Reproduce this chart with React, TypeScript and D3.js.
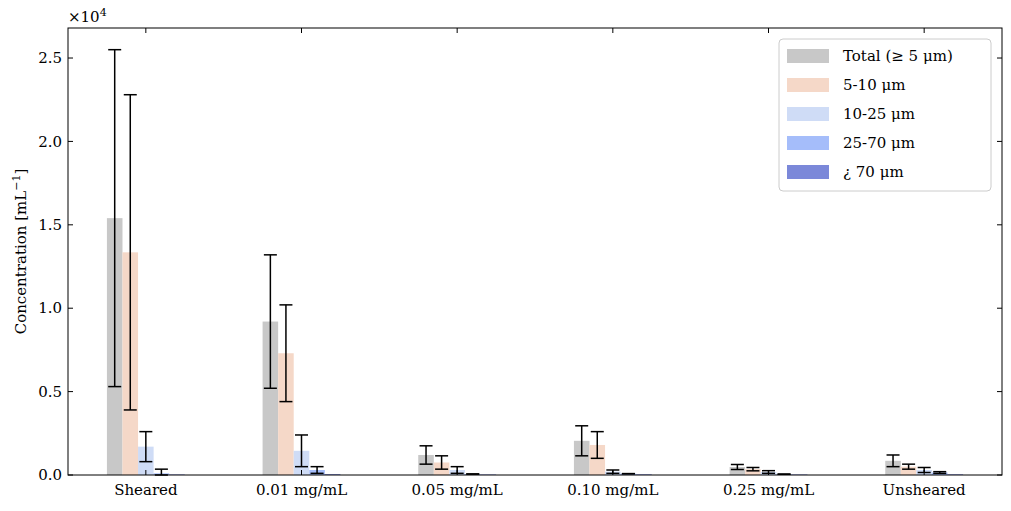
import { useRef, useEffect } from 'react'
import * as d3 from 'd3'

const categories = ['Sheared', '0.01 mg/mL', '0.05 mg/mL', '0.10 mg/mL', '0.25 mg/mL', 'Unsheared']
const seriesNames = ['Total (≥ 5 μm)', '5-10 μm', '10-25 μm', '25-70 μm', '¿ 70 μm']
const seriesColors = ['#c8c8c8', '#f5d8c8', '#cfdcf6', '#a5bdfa', '#7b88d9']
const means = [
  [15400, 9200, 1200, 2050, 480, 850],
  [13350, 7300, 750, 1800, 350, 500],
  [1700, 1450, 300, 200, 180, 300],
  [100, 300, 60, 80, 50, 150],
  [30, 50, 30, 40, 30, 40],
]
const errors = [
  [10100, 4000, 550, 900, 150, 350],
  [9450, 2900, 400, 800, 100, 150],
  [900, 950, 200, 100, 80, 150],
  [250, 200, 0, 0, 0, 50],
  [0, 0, 0, 0, 0, 0],
]
const yTicks = [0, 5000, 10000, 15000, 20000, 25000]

export default function App() {
  const svgRef = useRef<SVGSVGElement>(null)
  useEffect(() => {
    const svg = d3.select(svgRef.current!)
    svg.selectAll('*').remove()
    const margin = { top: 28, left: 68, right: 1011 - 1002, bottom: 511 - 475 }
    const W = 1011, H = 511
    const w = W - margin.left - margin.right
    const h = H - margin.top - margin.bottom
    const font = '"DejaVu Serif", serif'
    const x = d3.scaleLinear().domain([-0.5, 5.5]).range([0, w])
    const y = d3.scaleLinear().domain([0, 26800]).range([h, 0])
    const bw = x(0.1) - x(0)
    const g = svg.append('g').attr('transform', `translate(${margin.left},${margin.top})`)

    means.forEach((vals, s) => {
      vals.forEach((v, i) => {
        const cx = x(i + (s - 2) * 0.1)
        g.append('rect').attr('x', cx - bw / 2).attr('width', bw)
          .attr('y', y(v)).attr('height', y(0) - y(v)).attr('fill', seriesColors[s])
        const e = errors[s][i]
        if (s < 4 || e > 0) {
          const lo = Math.max(0, v - e), hi = v + e
          g.append('line').attr('x1', cx).attr('x2', cx).attr('y1', y(lo)).attr('y2', y(hi)).attr('stroke', '#000').attr('stroke-width', 1.5)
          ;[lo, hi].forEach((yy) => g.append('line').attr('x1', cx - 6.5).attr('x2', cx + 6.5)
            .attr('y1', y(yy)).attr('y2', y(yy)).attr('stroke', '#000').attr('stroke-width', 1.5))
        }
      })
    })

    g.append('rect').attr('width', w).attr('height', h).attr('fill', 'none').attr('stroke', '#000')
    const tl = 5
    yTicks.forEach((t) => {
      g.append('line').attr('x1', 0).attr('x2', tl).attr('y1', y(t)).attr('y2', y(t)).attr('stroke', '#000')
      g.append('line').attr('x1', w).attr('x2', w - tl).attr('y1', y(t)).attr('y2', y(t)).attr('stroke', '#000')
      g.append('text').attr('x', -6).attr('y', y(t)).attr('dy', '0.35em').attr('text-anchor', 'end')
        .attr('font-family', font).attr('font-size', 15).text((t / 10000).toFixed(1))
    })
    categories.forEach((c, i) => {
      g.append('line').attr('x1', x(i)).attr('x2', x(i)).attr('y1', h).attr('y2', h - tl).attr('stroke', '#000')
      g.append('line').attr('x1', x(i)).attr('x2', x(i)).attr('y1', 0).attr('y2', tl).attr('stroke', '#000')
      g.append('text').attr('x', x(i)).attr('y', h + 20).attr('text-anchor', 'middle')
        .attr('font-family', font).attr('font-size', 15).text(c)
    })
    const mult = g.append('text').attr('x', 0).attr('y', -6).attr('font-family', font).attr('font-size', 15)
    mult.append('tspan').text('×10')
    mult.append('tspan').attr('dy', -6).attr('font-size', 11).text('4')
    const yl = svg.append('text').attr('transform', `translate(26,${margin.top + h / 2}) rotate(-90)`)
      .attr('text-anchor', 'middle').attr('font-family', font).attr('font-size', 15)
    yl.append('tspan').text('Concentration [mL')
    yl.append('tspan').attr('dy', -6).attr('font-size', 11).text('−1')
    yl.append('tspan').attr('dy', 6).text(']')

    const lg = svg.append('g').attr('transform', 'translate(779,39)')
    lg.append('rect').attr('width', 212).attr('height', 152).attr('rx', 4).attr('fill', '#fff')
      .attr('stroke', '#ccc')
    seriesNames.forEach((n, s) => {
      const yy = 16 + s * 29
      lg.append('rect').attr('x', 8).attr('y', yy - 6).attr('width', 42).attr('height', 14).attr('fill', seriesColors[s])
      lg.append('text').attr('x', 64).attr('y', yy + 1).attr('dy', '0.35em').attr('font-family', font)
        .attr('font-size', 15).text(n)
    })
  }, [])
  return <svg ref={svgRef} width={1011} height={511} style={{ position: 'absolute', left: 0, top: 0 }} />
}
